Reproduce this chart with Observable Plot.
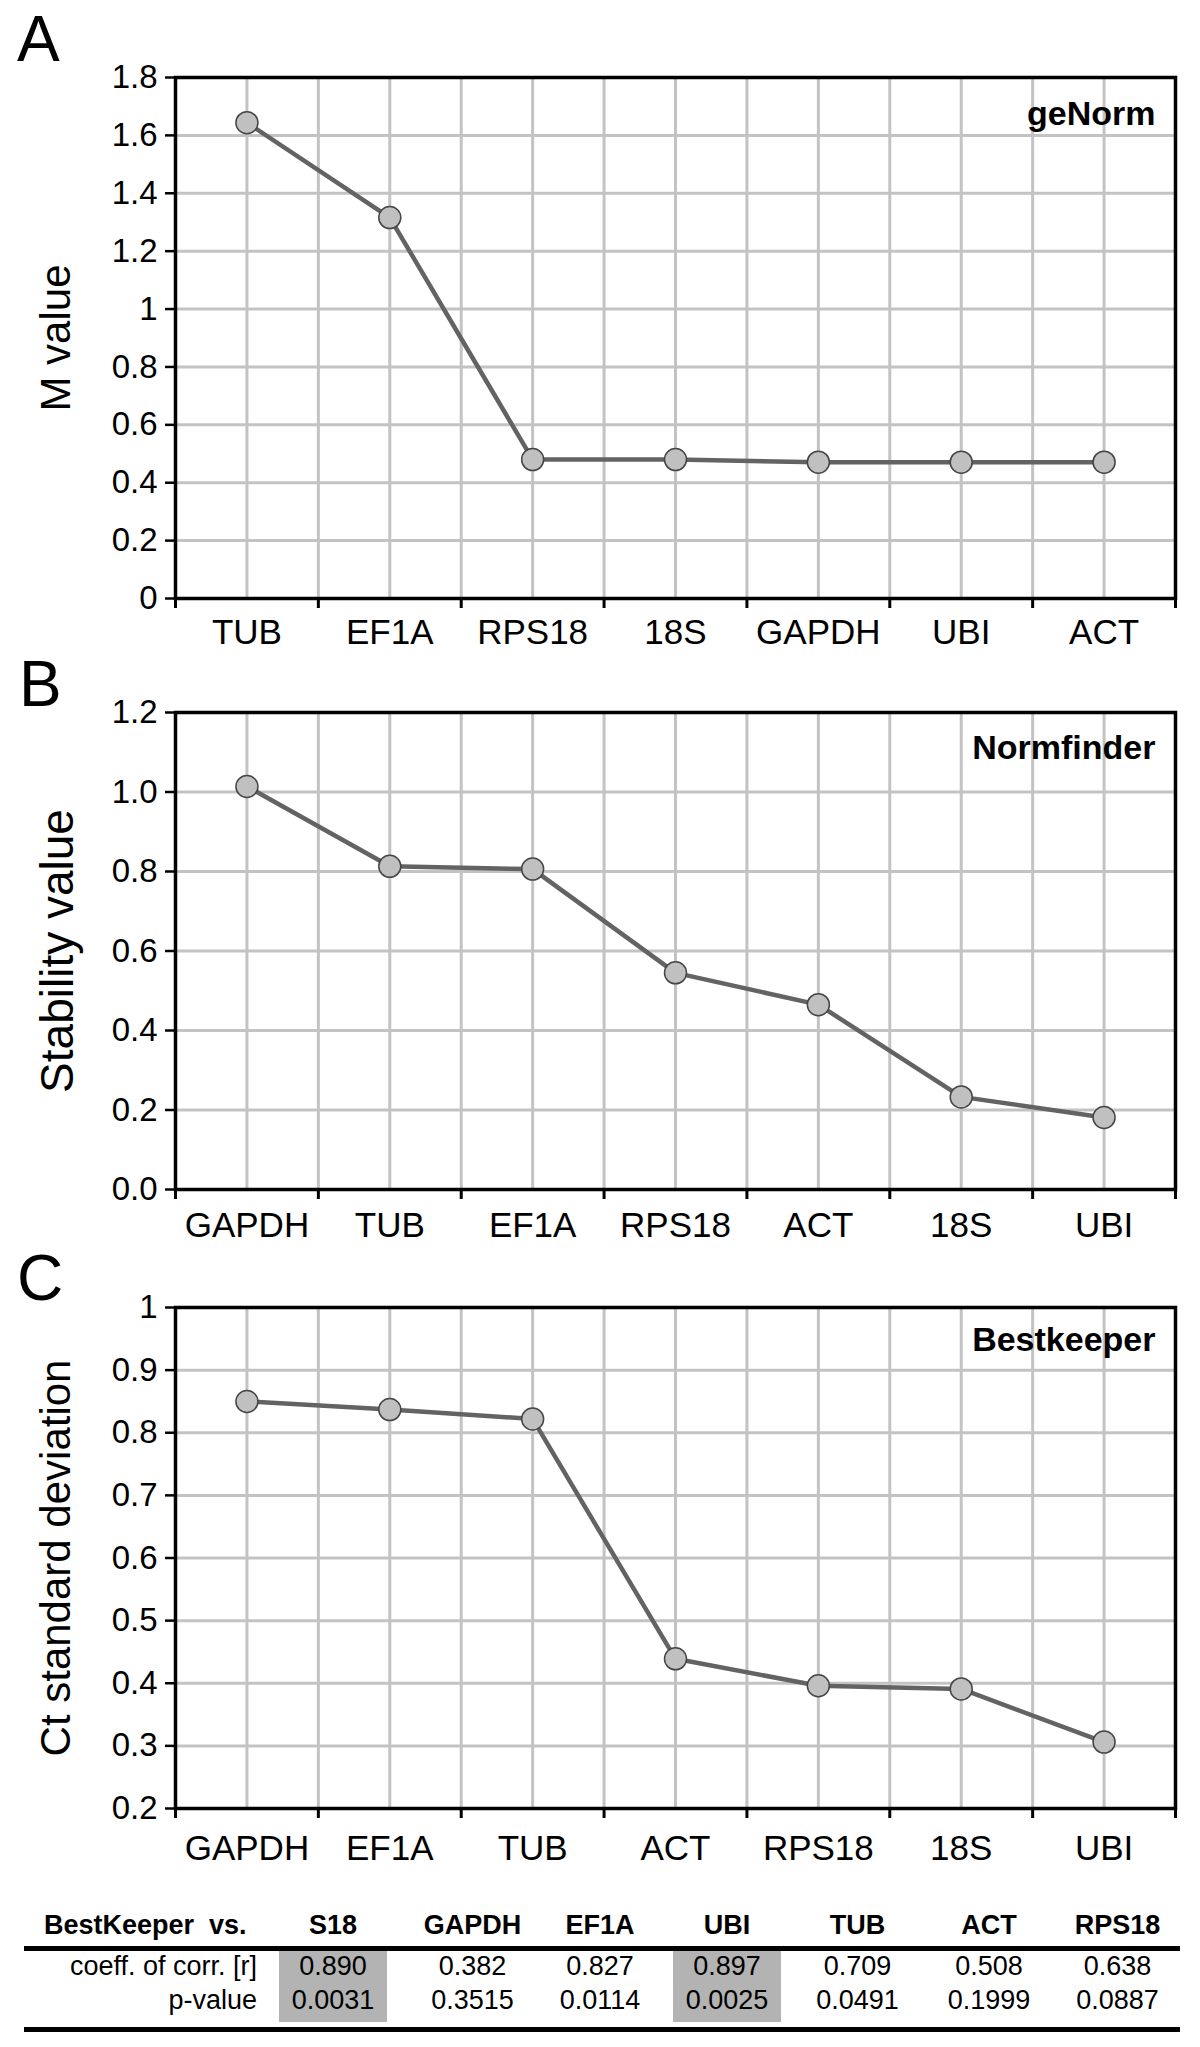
<!DOCTYPE html>
<html>
<head>
<meta charset="utf-8">
<script src="https://cdn.jsdelivr.net/npm/d3@7"></script>
<script src="https://cdn.jsdelivr.net/npm/@observablehq/plot@0.6"></script>
<style>
  body { margin: 0; background: #fff; font-family: "Liberation Sans", Arial, sans-serif; }
  #root { position: relative; width: 1200px; height: 2047px; overflow: hidden; background: #fff; }
  .panel { position: absolute; left: 0; }
  .letter { position: absolute; font-size: 64px; line-height: 1; color: #000; }
  table.bk { position: absolute; left: 24px; top: 1908px; border-collapse: separate; border-spacing: 0;
             table-layout: fixed; font-size: 27px; color: #000; }
  table.bk td, table.bk th { padding: 0; white-space: pre; box-sizing: border-box; line-height: 1; vertical-align: top; }
  table.bk th { font-weight: bold; font-size: 27px; height: 43px; padding-top: 4px; border-bottom: 5px solid #000; text-align: center; }
  table.bk th.lab { text-align: left; padding-left: 20px; }
  table.bk td { text-align: center; }
  table.bk tr.r0 td { height: 36px; padding-top: 2px; }
  table.bk tr.r1 td { height: 45px; padding-top: 0px; border-bottom: 5px solid #000; }
  table.bk td.lab { text-align: right; padding-right: 2px; }
  table.bk td.hl { background: linear-gradient(#b3b3b3, #b3b3b3) center top / 108px calc(100% - 5px) no-repeat; }
  table.bk tr.r0 td.hl { background-size: 108px 100%; }
</style>
</head>
<body>
<div id="root"></div>
<script>
// ---------- data ----------
const genormGenes = ["TUB", "EF1A", "RPS18", "18S", "GAPDH", "UBI", "ACT"];
const genormM = [1.644, 1.316, 0.480, 0.480, 0.471, 0.471, 0.471];
const genormTicks = [0, 0.2, 0.4, 0.6, 0.8, 1, 1.2, 1.4, 1.6, 1.8];

const normfinderGenes = ["GAPDH", "TUB", "EF1A", "RPS18", "ACT", "18S", "UBI"];
const normfinderStability = [1.014, 0.813, 0.806, 0.545, 0.465, 0.233, 0.181];
const normfinderTicks = [0, 0.2, 0.4, 0.6, 0.8, 1.0, 1.2];

const bestkeeperGenes = ["GAPDH", "EF1A", "TUB", "ACT", "RPS18", "18S", "UBI"];
const bestkeeperSD = [0.850, 0.837, 0.822, 0.439, 0.396, 0.391, 0.306];
const bestkeeperTicks = [0.2, 0.3, 0.4, 0.5, 0.6, 0.7, 0.8, 0.9, 1];

const tableGenes = ["S18", "GAPDH", "EF1A", "UBI", "TUB", "ACT", "RPS18"];
const corrR = [0.890, 0.382, 0.827, 0.897, 0.709, 0.508, 0.638];
const pValues = [0.0031, 0.3515, 0.0114, 0.0025, 0.0491, 0.1999, 0.0887];
const highlightedGenes = ["S18", "UBI"];

// ---------- layout ----------
const FONT = '"Liberation Sans", Arial, Helvetica, sans-serif';
const root = document.getElementById("root");

function panel(cfg) {
  const {genes, values, ticks, yFormat, yLabel, labelSize, name, top, height, marginTop, marginBottom, labelPad, nameDy} = cfg;
  const n = genes.length;
  const data = genes.map((g, i) => ({gene: g, x: i + 0.5, v: values[i]}));
  const chart = Plot.plot({
    width: 1200,
    height,
    marginTop,
    marginBottom,
    marginLeft: 175,
    marginRight: 25,
    style: {fontFamily: FONT, background: "transparent", color: "#000", overflow: "visible"},
    x: {domain: [0, n]},
    y: {domain: [ticks[0], ticks[ticks.length - 1]]},
    marks: [
      Plot.gridX(d3.range(0.5, n, 0.5), {stroke: "#c3c3c3", strokeOpacity: 1, strokeWidth: 3}),
      Plot.gridY(ticks, {stroke: "#c3c3c3", strokeOpacity: 1, strokeWidth: 3}),
      Plot.frame({stroke: "#000", strokeWidth: 3.5}),
      Plot.axisX(d3.range(0, n + 1), {tickSize: 10, strokeWidth: 3, tickFormat: () => "", label: null}),
      Plot.axisX(data.map(d => d.x), {tickSize: 0, tickPadding: labelPad, fontSize: 35,
        tickFormat: x => genes[Math.floor(x)], label: null}),
      Plot.axisY(ticks, {tickSize: 10, tickPadding: 8, strokeWidth: 2.5, fontSize: 33,
        tickFormat: yFormat, label: null}),
      Plot.axisY([], {label: yLabel, labelAnchor: "center", labelArrow: "none", labelOffset: 135,
        fontSize: labelSize, tickSize: 0}),
      Plot.line(data, {x: "x", y: "v", stroke: "#636363", strokeWidth: 4.5}),
      Plot.dot(data, {x: "x", y: "v", r: 11, fill: "#c0c0c0", stroke: "#454545", strokeWidth: 1.5}),
      Plot.text([name], {text: d => d, frameAnchor: "top-right", textAnchor: "end", lineAnchor: "top",
        dx: -20, dy: nameDy, fontWeight: "bold", fontSize: 34})
    ]
  });
  const div = document.createElement("div");
  div.className = "panel";
  div.style.top = top + "px";
  div.appendChild(chart);
  root.appendChild(div);
}

function letter(txt, left, top) {
  const d = document.createElement("div");
  d.className = "letter";
  d.textContent = txt;
  d.style.left = left + "px";
  d.style.top = top + "px";
  root.appendChild(d);
}

panel({genes: genormGenes, values: genormM, ticks: genormTicks, yFormat: d => String(d),
  yLabel: "M value", labelSize: 42, name: "geNorm", top: 0, height: 680, marginTop: 77, marginBottom: 82,
  labelPad: 21, nameDy: 23});
panel({genes: normfinderGenes, values: normfinderStability, ticks: normfinderTicks, yFormat: d => d.toFixed(1),
  yLabel: "Stability value", labelSize: 46, name: "Normfinder", top: 640, height: 611, marginTop: 72, marginBottom: 62,
  labelPad: 23, nameDy: 22});
panel({genes: bestkeeperGenes, values: bestkeeperSD, ticks: bestkeeperTicks, yFormat: d => String(d),
  yLabel: "Ct standard deviation", labelSize: 42, name: "Bestkeeper", top: 1250, height: 622, marginTop: 57, marginBottom: 64,
  labelPad: 27, nameDy: 19});

letter("A", 17, 7);
letter("B", 19, 652);
letter("C", 17, 1246);

// ---------- table ----------
const colWidths = [235, 148, 131, 124, 130, 131, 132, 125];
const table = document.createElement("table");
table.className = "bk";
const cg = document.createElement("colgroup");
colWidths.forEach(w => { const c = document.createElement("col"); c.style.width = w + "px"; cg.appendChild(c); });
table.appendChild(cg);
table.style.width = colWidths.reduce((a, b) => a + b, 0) + "px";

const hr = document.createElement("tr");
const h0 = document.createElement("th"); h0.className = "lab"; h0.textContent = "BestKeeper  vs."; hr.appendChild(h0);
tableGenes.forEach(g => { const th = document.createElement("th"); th.textContent = g; hr.appendChild(th); });
table.appendChild(hr);

const rows = [
  {label: "coeff. of corr. [r]", vals: corrR.map(v => v.toFixed(3))},
  {label: "p-value", vals: pValues.map(v => v.toFixed(4))}
];
rows.forEach((r, ri) => {
  const tr = document.createElement("tr");
  tr.className = "r" + ri;
  const l = document.createElement("td"); l.className = "lab"; l.textContent = r.label;
  tr.appendChild(l);
  r.vals.forEach((v, i) => {
    const td = document.createElement("td");
    if (highlightedGenes.includes(tableGenes[i])) td.className = "hl";
    td.textContent = v;
    tr.appendChild(td);
  });
  table.appendChild(tr);
});
root.appendChild(table);
</script>
</body>
</html>
